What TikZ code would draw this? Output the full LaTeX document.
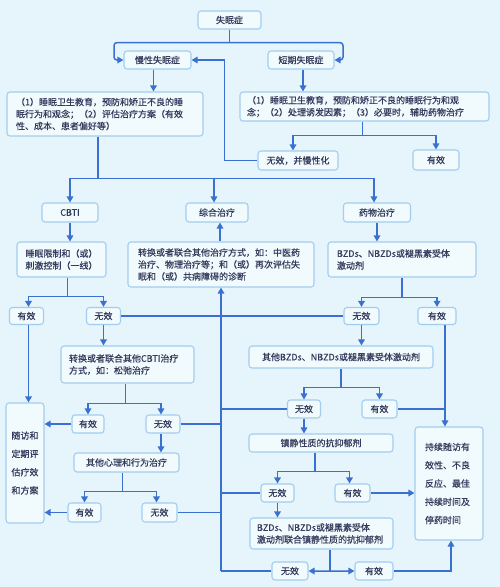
\documentclass[tikz,border=0pt]{standalone}
\usepackage{fontspec}
\setmainfont{Noto Sans CJK SC}[FakeBold=0.5]
\usetikzlibrary{arrows.meta,calc}

\definecolor{bgcol}{HTML}{E5F5FB}
\definecolor{boxfill}{HTML}{F1FAFD}
\definecolor{boxline}{HTML}{A3CDF0}
\definecolor{linecol}{HTML}{3A70D0}
\definecolor{txtcol}{HTML}{353B5C}

\tikzset{
  box/.style={draw=boxline, fill=boxfill, rounded corners=3pt, line width=1.1pt,
    text=txtcol, inner sep=0pt, align=center},
  wbox/.style={box, align=left},
  tallbox/.style={box, align=left, font=\fontsize{9}{18.3}\selectfont},
  link/.style={draw=linecol, line width=1.5pt},
  arr/.style={link, -{Triangle[length=6pt,width=6.5pt]}},
}

\begin{document}
\begin{tikzpicture}[x=1pt, y=-1pt, font=\fontsize{9}{12}\selectfont]
    \fill[bgcol] (0,0) rectangle (500,587);
    \useasboundingbox (0,0) rectangle (500,587);
    % --- górna część ---
    \node[box, minimum width=63pt, minimum height=18pt] (top) at (229.5,20) {失眠症};
    \node[box, minimum width=67pt, minimum height=18pt] (chronic) at (157.5,60) {慢性失眠症};
    \node[box, minimum width=66pt, minimum height=18pt] (short) at (301,60) {短期失眠症};
    \node[wbox, text width=178pt, inner xsep=9pt, minimum height=44pt] (chronA) at (105,114)
      {（1）睡眠卫生教育，预防和矫正不良的睡\\眠行为和观念；（2）评估治疗方案（有效\\性、成本、患者偏好等）};
    \node[wbox, text width=235pt, inner xsep=7pt, minimum height=29pt] (shortB) at (364.5,106.5)
      {（1）睡眠卫生教育，预防和矫正不良的睡眠行为和观\\念；（2）处理诱发因素；（3）必要时，辅助药物治疗};
    \node[box, minimum width=80pt, minimum height=19pt] (worse) at (298,160.5) {无效，并慢性化};
    \node[box, minimum width=46pt, minimum height=20pt] (shortOk) at (436,160) {有效};
    % --- trzy ścieżki ---
    \node[box, minimum width=56pt, minimum height=19pt] (cbti) at (70,212.5) {CBTI};
    \node[box, minimum width=62pt, minimum height=19pt] (combo) at (217,212.5) {综合治疗};
    \node[box, minimum width=67pt, minimum height=19pt] (drug) at (377,212.5) {药物治疗};
    \node[box, minimum width=89pt, minimum height=35pt] (sleepR) at (61.5,259.5) {睡眠限制和（或）\\刺激控制（一线）};
    \node[wbox, text width=166pt, inner xsep=10pt, minimum height=45pt] (comboM) at (221,264.5)
      {转换或者联合其他治疗方式，如：中医药\\治疗、物理治疗等；和（或）再次评估失\\眠和（或）共病障碍的诊断};
    \node[wbox, text width=130pt, inner xsep=9pt, minimum height=35pt] (drugD1) at (402,259.5)
      {BZDs、NBZDs或褪黑素受体\\激动剂};
    % --- CBTI ---
    \node[box, minimum width=34pt, minimum height=17pt] (cOk) at (26.5,316) {有效};
    \node[box, minimum width=34pt, minimum height=17pt] (cNo) at (103.5,316) {无效};
    \node[wbox, text width=117pt, inner xsep=8pt, minimum height=37pt] (C2) at (127.5,364.5)
      {转换或者联合其他CBTI治疗\\方式，如：松弛治疗};
    \node[box, minimum width=32pt, minimum height=18pt] (c2Ok) at (88,424) {有效};
    \node[box, minimum width=34pt, minimum height=18pt] (c2No) at (163,424) {无效};
    \node[box, minimum width=105pt, minimum height=19pt] (C3) at (126.5,462.5) {其他心理和行为治疗};
    \node[box, minimum width=33pt, minimum height=19pt] (c3Ok) at (84.5,512.5) {有效};
    \node[box, minimum width=35pt, minimum height=19pt] (c3No) at (159.5,512.5) {无效};
    \node[tallbox, minimum width=38pt, minimum height=120pt] (follow) at (25,463)
      {随访和\\定期评\\估疗效\\和方案};
    % --- leki ---
    \node[box, minimum width=35pt, minimum height=17pt] (dNo) at (361.5,316) {无效};
    \node[box, minimum width=38pt, minimum height=17pt] (dOk) at (437,316) {有效};
    \node[box, minimum width=184pt, minimum height=22pt] (D2) at (341,357) {其他BZDs、NBZDs或褪黑素受体激动剂};
    \node[box, minimum width=33pt, minimum height=18pt] (d2No) at (304,409) {无效};
    \node[box, minimum width=35pt, minimum height=18pt] (d2Ok) at (379.5,409) {有效};
    \node[box, minimum width=144pt, minimum height=18pt] (D3) at (321,443) {镇静性质的抗抑郁剂};
    \node[box, minimum width=33pt, minimum height=18pt] (d3No) at (277.5,493) {无效};
    \node[box, minimum width=35pt, minimum height=18pt] (d3Ok) at (352.5,493) {有效};
    \node[wbox, text width=129pt, inner xsep=7pt, minimum height=31pt] (D4) at (321.5,533.5)
      {BZDs、NBZDs或褪黑素受体\\激动剂联合镇静性质的抗抑郁剂};
    \node[box, minimum width=36pt, minimum height=18pt] (d4No) at (290,571) {无效};
    \node[box, minimum width=38pt, minimum height=18pt] (d4Ok) at (374,571) {有效};
    \node[tallbox, text width=48pt, inner xsep=10pt, minimum height=113pt] (F) at (449,483.5)
      {持续随访有\\效性、不良\\反应、最佳\\持续时间及\\停药时间};
    % --- połączenia: góra ---
    \draw[link] (top.south) -- ++(0,13) coordinate (topj);
    \draw[arr, rounded corners=3pt] (topj) -| (114,60) -- (chronic.west);
    \draw[arr, rounded corners=3pt] (topj) -| (343,60) -- (short.east);
    \draw[arr] ([xshift=-4pt]chronic.south) -- ([xshift=-4pt]chronic.south |- chronA.north);
    \draw[arr] ([xshift=2pt]short.south) -- ([xshift=2pt]short.south |- shortB.north);
    \draw[link] ([xshift=-2pt]shortB.south) -- ++(0,14) coordinate (bj);
    \draw[arr] (bj) -| ([xshift=-5pt]worse.north);
    \draw[arr] (bj) -| (shortOk.north);
    \draw[arr] (worse.west) -- ++(-33,0) |- (chronic.east);
    \draw[link] ([xshift=-7pt]chronA.south) -- ++(0,42) coordinate (aj);
    \draw[arr] (aj) -| (cbti.north);
    \draw[arr] (aj) -| ([xshift=-3pt]combo.north);
    \draw[arr] (aj) -| ([xshift=-3pt]drug.north);
    \draw[arr] (cbti.south) -- (cbti.south |- sleepR.north);
    \draw[arr] ([xshift=-1pt]comboM.north) -- ([xshift=-1pt]comboM.north |- combo.south);
    \draw[arr] (drug.south) -- (drug.south |- drugD1.north);
    % --- połączenia: CBTI ---
    \coordinate (trunkb) at (221,571);
    \draw[arr] (trunkb) -- (trunkb |- comboM.south);
    \draw[link] ([xshift=6pt]sleepR.south) -- ++(0,19) coordinate (sj);
    \draw[arr] (sj) -| ([xshift=2pt]cOk.north);
    \draw[arr] (sj) -| (cNo.north);
    \draw[link] (cNo.east) -- (dNo.west);
    \draw[arr] ([xshift=2pt]cOk.south) -- ([xshift=2pt]cOk.south |- follow.north);
    \draw[arr] (cNo.south) -- (cNo.south |- C2.north);
    \draw[link] ([xshift=-2pt]C2.south) -- ++(0,20) coordinate (c2j);
    \draw[arr] (c2j) -| (c2Ok.north);
    \draw[arr] (c2j) -| ([xshift=-2pt]c2No.north);
    \draw[arr] (c2Ok.west) -- (c2Ok.west -| follow.east);
    \draw[link] (c2No.east) -- (c2No.east -| trunkb);
    \draw[arr] ([xshift=-2pt]c2No.south) -- ([xshift=-2pt]c2No.south |- C3.north);
    \draw[link] ([xshift=-4pt]C3.south) -- ++(0,19) coordinate (c3j);
    \draw[arr] (c3j) -| (c3Ok.north);
    \draw[arr] (c3j) -| ([xshift=-3pt]c3No.north);
    \draw[arr] (c3Ok.west) -- (c3Ok.west -| follow.east);
    \draw[link] (c3No.east) -- (c3No.east -| trunkb);
    % --- połączenia: leki ---
    \draw[link] (drugD1.south) -- ++(0,20) coordinate (dj);
    \draw[arr] (dj) -| (dNo.north);
    \draw[arr] (dj) -| (dOk.north);
    \coordinate (fin) at ([xshift=8pt]dOk.south);
    \draw[arr] (fin) -- (fin |- F.north);
    \draw[arr] (dNo.south) -- (dNo.south |- D2.north);
    \draw[link] (D2.south) -- ++(0,19) coordinate (d2j);
    \draw[arr] (d2j) -| (d2No.north);
    \draw[arr] (d2j) -| (d2Ok.north);
    \draw[link] (d2No.west) -- (d2No.west -| trunkb);
    \draw[link] (d2Ok.east) -- (d2Ok.east -| fin);
    \draw[arr] (d2No.south) -- (d2No.south |- D3.north);
    \draw[link] ([xshift=-6pt]D3.south) -- ++(0,19) coordinate (d3j);
    \draw[arr] (d3j) -| (d3No.north);
    \draw[arr] (d3j) -| ([xshift=-3pt]d3Ok.north);
    \draw[link] (d3No.west) -- (d3No.west -| trunkb);
    \draw[arr] (d3Ok.east) -- (d3Ok.east -| F.west);
    \draw[arr] (d3No.south) -- (d3No.south |- D4.north);
    \draw[link] ([xshift=8.5pt]D4.south) -- ++(0,21.5) coordinate (d4j);
    \draw[arr] (d4j) -- (d4No.east);
    \draw[arr] (d4j) -- (d4Ok.west);
    \draw[link] (d4No.west) -- (d4No.west -| trunkb);
    \draw[arr] (d4Ok.east) -| ([xshift=2pt]F.south);
  \end{tikzpicture}
\end{document}
